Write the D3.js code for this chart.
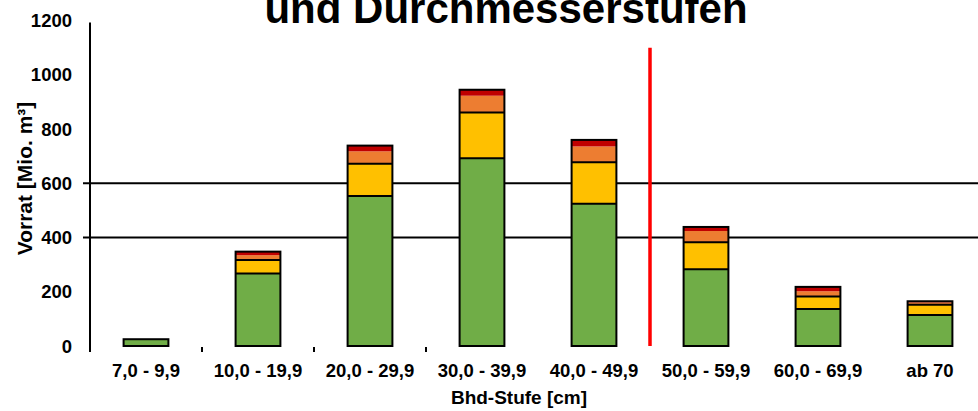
<!DOCTYPE html>
<html>
<head>
<meta charset="utf-8">
<script src="https://cdn.jsdelivr.net/npm/d3@7"></script>
<style>
  html, body { margin: 0; padding: 0; background: #fff; }
  svg { display: block; font-family: "Liberation Sans", Arial, sans-serif; }
</style>
</head>
<body>
<svg id="chart" width="978" height="411"></svg>
<script>
// ---- data ----
const categories = ["7,0 - 9,9", "10,0 - 19,9", "20,0 - 29,9", "30,0 - 39,9", "40,0 - 49,9", "50,0 - 59,9", "60,0 - 69,9", "ab 70"];
const seriesNames = ["s1", "s2", "s3", "s4"];
const series1 = [25, 267, 553, 692, 525, 283, 136, 114];   // green
const series2 = [0, 50, 119, 169, 153, 100, 47, 38];      // yellow
const series3 = [0, 18, 46, 62, 58, 41, 19, 9];           // orange
const series4 = [0, 13, 21, 22, 24, 15, 16, 4];           // dark red
const yTicks = [0, 200, 400, 600, 800, 1000, 1200];
const gridValues = [400, 600];
const markerValue = 1100;
const titleText = "und Durchmesserstufen";
const xTitle = "Bhd-Stufe [cm]";
const yTitle = "Vorrat [Mio. m³]";

const colors = ["#70AD47", "#FFC000", "#ED7D31", "#C00000"];

// ---- layout ----
const svg = d3.select("#chart");
const left = 90, right = 986, top0 = 20.6, bottom0 = 346;

const x = d3.scaleBand().domain(categories).range([left, right]).paddingInner(0.6).paddingOuter(0.3);
const xOuter = d3.scaleBand().domain(categories).range([left, right]).padding(0);
const y = d3.scaleLinear().domain([0, 1200]).range([bottom0, top0]);

const table = categories.map((c, i) => ({ cat: c, s1: series1[i], s2: series2[i], s3: series3[i], s4: series4[i] }));
const stack = d3.stack().keys(seriesNames)(table);

// gridlines
svg.append("g").selectAll("line").data(gridValues).join("line")
  .attr("x1", left - 7).attr("x2", 978)
  .attr("y1", d => y(d)).attr("y2", d => y(d))
  .attr("stroke", "#000").attr("stroke-width", 2);

// bars
const gBars = svg.append("g");
stack.forEach((layer, li) => {
  gBars.append("g").selectAll("rect").data(layer).join("rect")
    .attr("x", d => x(d.data.cat))
    .attr("width", x.bandwidth())
    .attr("y", d => y(d[1]))
    .attr("height", d => Math.max(0, y(d[0]) - y(d[1])))
    .attr("fill", colors[li]);
});
// separators between green/yellow and yellow/orange
[0, 1].forEach(li => {
  gBars.append("g").selectAll("line").data(stack[li].filter(d => series2[categories.indexOf(d.data.cat)] > 0)).join("line")
    .attr("x1", d => x(d.data.cat)).attr("x2", d => x(d.data.cat) + x.bandwidth())
    .attr("y1", d => y(d[1])).attr("y2", d => y(d[1]))
    .attr("stroke", "#000").attr("stroke-width", 2);
});
// outline of each whole bar
gBars.append("g").selectAll("rect").data(stack[3]).join("rect")
  .attr("x", d => x(d.data.cat))
  .attr("width", x.bandwidth())
  .attr("y", d => y(d[1]))
  .attr("height", d => y(0) - y(d[1]))
  .attr("fill", "none").attr("stroke", "#000").attr("stroke-width", 2);

// y axis line
svg.append("line").attr("x1", left).attr("x2", left)
  .attr("y1", y(1200) + 2).attr("y2", y(0) + 6)
  .attr("stroke", "#000").attr("stroke-width", 2);

// x tick marks (boundaries)
const boundaryCats = categories.slice(1, 4);
svg.append("g").selectAll("line").data(boundaryCats).join("line")
  .attr("x1", d => xOuter(d)).attr("x2", d => xOuter(d))
  .attr("y1", y(0) + 1).attr("y2", y(0) + 6)
  .attr("stroke", "#000").attr("stroke-width", 2);

// y tick labels
svg.append("g").selectAll("text").data(yTicks).join("text")
  .attr("x", 72).attr("y", d => y(d))
  .attr("dy", "0.36em")
  .attr("text-anchor", "end")
  .attr("font-size", 18.5).attr("font-weight", "bold")
  .text(d => d);

// x tick labels
svg.append("g").selectAll("text").data(categories).join("text")
  .attr("x", d => x(d) + x.bandwidth() / 2).attr("y", 377)
  .attr("text-anchor", "middle")
  .attr("font-size", 18.5).attr("font-weight", "bold")
  .text(d => d);

// red marker line
svg.append("line")
  .attr("x1", xOuter(categories[5])).attr("x2", xOuter(categories[5]))
  .attr("y1", y(markerValue)).attr("y2", y(0))
  .attr("stroke", "#FF0000").attr("stroke-width", 3.5);

// titles
svg.append("text").attr("x", 506).attr("y", 23)
  .attr("text-anchor", "middle").attr("font-size", 42).attr("font-weight", "bold")
  .text(titleText);

svg.append("text").attr("x", 519).attr("y", 404)
  .attr("text-anchor", "middle").attr("font-size", 19).attr("font-weight", "bold")
  .text(xTitle);

svg.append("text")
  .attr("transform", "translate(32,178.5) rotate(-90)")
  .attr("text-anchor", "middle").attr("font-size", 21).attr("font-weight", "bold")
  .text(yTitle);
</script>
</body>
</html>
